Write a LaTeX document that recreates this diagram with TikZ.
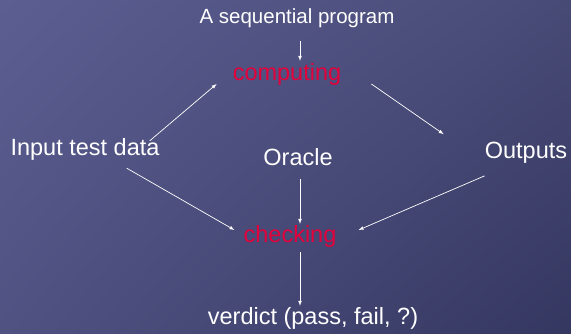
\documentclass[tikz,border=0pt]{standalone}
\usepackage{fontspec}
\setmainfont{Liberation Sans}
\usetikzlibrary{shadings}
\definecolor{slidetl}{RGB}{92,94,146}
\definecolor{slidebl}{RGB}{80,82,130}
\definecolor{slidetr}{RGB}{72,74,118}
\definecolor{slidebr}{RGB}{52,55,96}
\definecolor{keyred}{RGB}{228,0,58}
\tikzset{
	txt/.style={text=white, inner sep=0pt, font=\fontsize{23.5}{28}\selectfont},
	key/.style={txt, text=keyred},
	arr/.style={->, >=latex, white, line width=0.7pt}
}
\begin{document}
\begin{tikzpicture}[x=1pt, y=-1pt]
		\shade[upper left=slidetl, upper right=slidetr, lower left=slidebl, lower right=slidebr] (0,0) rectangle (571,334);
		\useasboundingbox (0,0) rectangle (571,334);
		
		\node[txt, font=\fontsize{20.5}{24}\selectfont] (P) at (297,18) {A sequential program};
		\node[key] (C) at (287,74) {computing};
		\node[txt] (I) at (85,149) {Input test data};
		\node[txt] (O) at (298,157) {Oracle};
		\node[txt] (Out) at (526,153) {Outputs};
		\node[key] (K) at (290,236) {checking};
		\node[txt] (V) at (313,318) {verdict (pass, fail, ?)};
		
		\draw[arr] ([xshift=3pt,yshift=-13pt]P.south) -- ([xshift=13pt,yshift=2pt]C.north);
		\draw[arr] ([xshift=-10pt,yshift=-3pt]I.north east) -- ([xshift=-16pt,yshift=-10pt]C.west);
		\draw[arr] ([xshift=30pt,yshift=-10pt]C.east) -- ([xshift=-41pt,yshift=8pt]Out.north west);
		\draw[arr] ([xshift=-33pt,yshift=-8pt]I.south east) -- ([xshift=-9pt,yshift=6pt]K.west);
		\draw[arr] ([xshift=2pt,yshift=-13pt]O.south) -- ([xshift=10pt,yshift=1pt]K.north);
		\draw[arr] ([yshift=-12pt]Out.south west) -- ([xshift=22pt,yshift=6pt]K.east);
		\draw[arr] ([xshift=10pt,yshift=-5pt]K.south) -- ([xshift=-13pt,yshift=1pt]V.north);
\end{tikzpicture}
\end{document}
